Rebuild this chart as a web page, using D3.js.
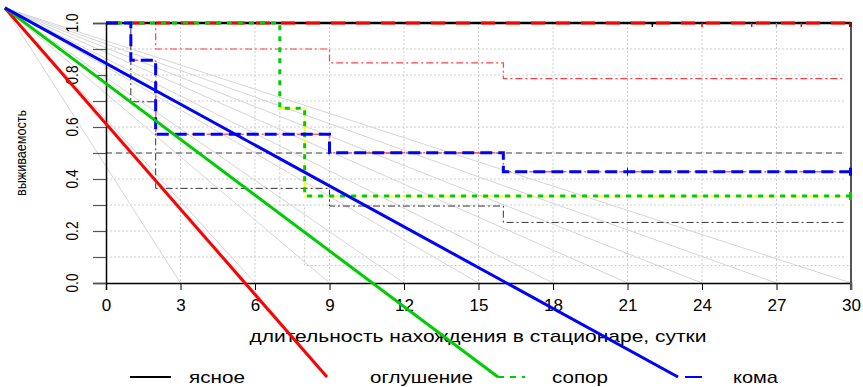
<!DOCTYPE html>
<html>
<head>
<meta charset="utf-8">
<script src="https://cdn.jsdelivr.net/npm/d3@7"></script>
<style>
    body { margin: 0; background: #fff; }
    svg { display: block; font-family: "Liberation Sans", Arial, sans-serif; }
</style>
</head>
<body>
<div id="chart"></div>
<script>
// ---- data ----
const xTicks = [0, 3, 6, 9, 12, 15, 18, 21, 24, 27, 30];
const yTicks = [0, 0.1, 0.2, 0.3, 0.4, 0.5, 0.6, 0.7, 0.8, 0.9, 1.0];
const yLabels = [0, 0.2, 0.4, 0.6, 0.8, 1.0];

// step curves: change points (day, survival) and end day
const komaDays = [0, 1, 2, 9, 16];
const komaSurv = [1, 0.857, 0.572, 0.501, 0.428];
const soporDays = [0, 7, 8];
const soporSurv = [1, 0.672, 0.335];
const blackCiDays = [0, 1, 2, 9, 16];
const blackCiSurv = [1, 0.697, 0.364, 0.296, 0.233];
const redCiDays = [0, 2, 9, 16];
const redCiSurv = [1, 0.9, 0.847, 0.786];
const soporLowDays = [7, 8];
const soporLowSurv = [0.3, 0.067];

const topCensorDays = [22, 24, 26, 27, 28];
const topCensorColors = ["#000", "#f00", "#f00", "#888", "#f00"];
const komaCensorDays = [21];

// fan of grey guide lines and the thick legend lines share one origin
const fanOrigin = [-4.07, 1.058];
const fanEnds = [3, 6, 9, 12, 15, 18, 21, 24, 27, 30];

const legendLabels = ["ясное", "оглушение", "сопор", "кома"];
const legendColors = ["#000", "#ff0000", "#00cc00", "#0000ff"];

// ---- layout ----
const W = 863, H = 387;
const x = d3.scaleLinear([0, 30], [106, 851]);
const y = d3.scaleLinear([0, 1], [283, 23]);
const legendY = 377;
const keyX = [130, 327, 498, 678];
const textX = [189, 370, 552, 733];
const textW = [56, 103, 56, 45];

const svg = d3.select("#chart").append("svg")
    .attr("width", W)
    .attr("height", H)
    .attr("viewBox", [0, 0, W, H]);

// helper: step path from change points
function stepPath(days, surv, endDay) {
    const pts = [];
    days.forEach((d, i) => {
        if (i > 0) pts.push([d, surv[i - 1]]);
        pts.push([d, surv[i]]);
    });
    pts.push([endDay, surv[surv.length - 1]]);
    return d3.line().x(d => x(d[0])).y(d => y(d[1]))(pts);
}

// grid
const grid = svg.append("g")
    .attr("stroke", "#d0d0d0")
    .attr("stroke-dasharray", "2,2")
    .attr("stroke-width", 1);
grid.selectAll("line.v")
    .data(xTicks.slice(1, -1))
    .join("line")
    .attr("x1", d => x(d)).attr("x2", d => x(d))
    .attr("y1", y(1)).attr("y2", y(0));
grid.selectAll("line.h")
    .data(yTicks.slice(1, -1))
    .join("line")
    .attr("x1", x(0)).attr("x2", x(29.8))
    .attr("y1", d => y(d)).attr("y2", d => y(d));

// grey fan
svg.append("g")
    .attr("stroke", "#d6d6d6")
    .attr("stroke-width", 1)
    .selectAll("line")
    .data(fanEnds)
    .join("line")
    .attr("x1", x(fanOrigin[0])).attr("y1", y(fanOrigin[1]))
    .attr("x2", d => x(d)).attr("y2", y(0));

// lower bound of сопор (grey dotted)
svg.append("path")
    .attr("d", stepPath([7, ...soporLowDays], [0.672, ...soporLowSurv], 30))
    .attr("fill", "none")
    .attr("stroke", "#c8c8c8")
    .attr("stroke-dasharray", "2,2");

// median line
svg.append("line")
    .attr("x1", x(0)).attr("x2", x(29.8))
    .attr("y1", y(0.5)).attr("y2", y(0.5))
    .attr("stroke", "#808080")
    .attr("stroke-width", 1.5)
    .attr("stroke-dasharray", "6,4");

// thin dash-dot curves
svg.append("path")
    .attr("d", stepPath(blackCiDays, blackCiSurv, 29.7))
    .attr("fill", "none")
    .attr("stroke", "#333")
    .attr("stroke-width", 1)
    .attr("stroke-dasharray", "7,3,2,3");
svg.append("path")
    .attr("d", stepPath(redCiDays, redCiSurv, 29.7))
    .attr("fill", "none")
    .attr("stroke", "#ff2020")
    .attr("stroke-opacity", 0.85)
    .attr("stroke-width", 1.2)
    .attr("stroke-dasharray", "7,3,2,3");
svg.append("path")
    .attr("d", stepPath(komaDays.slice(1), komaSurv.slice(1), 30))
    .attr("fill", "none")
    .attr("stroke", "#ff6060")
    .attr("stroke-width", 1.5)
    .attr("stroke-dasharray", "7,3,2,3");

// top line at 1.0: black solid with red dashes
svg.append("line")
    .attr("x1", x(0)).attr("x2", x(30))
    .attr("y1", y(1)).attr("y2", y(1))
    .attr("stroke", "#000").attr("stroke-width", 2.5);
svg.append("line")
    .attr("x1", x(0)).attr("x2", x(30))
    .attr("y1", y(1)).attr("y2", y(1))
    .attr("stroke", "#f00").attr("stroke-width", 3)
    .attr("stroke-dasharray", "14,11");

// сопор: yellow dash-dot under green dashes
svg.append("path")
    .attr("d", stepPath(soporDays.slice(1), soporSurv.slice(1), 30))
    .attr("fill", "none")
    .attr("stroke", "#ffff00")
    .attr("stroke-width", 1.5)
    .attr("stroke-dasharray", "6,3,2,3");
svg.append("path")
    .attr("d", stepPath(soporDays, soporSurv, 30))
    .attr("fill", "none")
    .attr("stroke", "#00cc00")
    .attr("stroke-width", 3)
    .attr("stroke-dasharray", "5,6");

// кома
svg.append("path")
    .attr("d", stepPath(komaDays, komaSurv, 30))
    .attr("fill", "none")
    .attr("stroke", "#0000ff")
    .attr("stroke-width", 3)
    .attr("stroke-dasharray", "12,6");

// censor marks
svg.append("g")
    .selectAll("line")
    .data(topCensorDays)
    .join("line")
    .attr("x1", d => x(d)).attr("x2", d => x(d))
    .attr("y1", y(1)).attr("y2", y(1) + 4)
    .attr("stroke", (d, i) => topCensorColors[i])
    .attr("stroke-width", 1.5);
svg.append("g")
    .selectAll("line")
    .data(komaCensorDays)
    .join("line")
    .attr("x1", d => x(d)).attr("x2", d => x(d))
    .attr("y1", y(komaSurv[komaSurv.length - 1]) - 4)
    .attr("y2", y(komaSurv[komaSurv.length - 1]) + 4)
    .attr("stroke", "#0000ff")
    .attr("stroke-width", 1);

// axes
const xAxis = svg.append("g")
    .attr("transform", `translate(0,${y(0)})`)
    .call(d3.axisBottom(x).tickValues(xTicks).tickSize(7).tickPadding(9));
xAxis.select(".domain").attr("stroke-width", 1.5);
xAxis.selectAll("text")
    .attr("font-size", 17)
    .attr("fill", "#000");

const yAxis = svg.append("g")
    .attr("transform", `translate(${x(0)},0)`)
    .call(d3.axisLeft(y).tickValues(yTicks).tickSize(13).tickFormat(""));
yAxis.select(".domain").attr("stroke-width", 1.5);
yAxis.selectAll(".tick line").attr("stroke", "#555").attr("stroke-width", 1.2);
svg.append("g")
    .selectAll("text")
    .data(yLabels)
    .join("text")
    .attr("transform", d => `translate(${x(0) - 28},${y(d)}) rotate(-90)`)
    .attr("text-anchor", "middle")
    .attr("font-size", 17)
    .attr("textLength", 19)
    .attr("lengthAdjust", "spacingAndGlyphs")
    .text(d => d.toFixed(1));

// right border
svg.append("line")
    .attr("x1", x(30)).attr("x2", x(30))
    .attr("y1", y(1)).attr("y2", y(0) + 7)
    .attr("stroke", "#555")
    .attr("stroke-width", 2);

// right-end markers
svg.append("rect").attr("x", x(30) - 2).attr("y", y(1) - 1).attr("width", 3).attr("height", 5).attr("fill", "#a00000");
svg.append("rect").attr("x", x(30) - 2).attr("y", y(komaSurv[4]) - 4).attr("width", 3).attr("height", 8).attr("fill", "#0000ff");
svg.append("rect").attr("x", x(30) - 2).attr("y", y(soporSurv[2]) - 4).attr("width", 3).attr("height", 8).attr("fill", "#00cc00");

// axis titles
svg.append("text")
    .attr("x", 478)
    .attr("y", 342)
    .attr("text-anchor", "middle")
    .attr("font-size", 17)
    .attr("textLength", 457)
    .attr("lengthAdjust", "spacingAndGlyphs")
    .text("длительность нахождения в стационаре, сутки");
svg.append("text")
    .attr("transform", `translate(26,${(y(0) + y(1)) / 2}) rotate(-90)`)
    .attr("text-anchor", "middle")
    .attr("font-size", 15)
    .attr("textLength", 86)
    .attr("lengthAdjust", "spacingAndGlyphs")
    .text("выживаемость");

// legend: the thick coloured keys are drawn from the fan origin
const legend = svg.append("g");
legendLabels.forEach((label, i) => {
    if (i === 0) {
        legend.append("line")
            .attr("x1", keyX[i]).attr("x2", keyX[i] + 41)
            .attr("y1", legendY).attr("y2", legendY)
            .attr("stroke", legendColors[i]).attr("stroke-width", 2);
    } else {
        legend.append("line")
            .attr("x1", x(fanOrigin[0])).attr("y1", y(fanOrigin[1]))
            .attr("x2", keyX[i]).attr("y2", legendY)
            .attr("stroke", legendColors[i]).attr("stroke-width", 3);
    }
    if (i === 2) {
        legend.append("line")
            .attr("x1", keyX[i]).attr("x2", keyX[i] + 27)
            .attr("y1", legendY).attr("y2", legendY)
            .attr("stroke", legendColors[i]).attr("stroke-width", 2)
            .attr("stroke-dasharray", "6,6");
    }
    if (i === 3) {
        legend.append("line")
            .attr("x1", keyX[i] + 7).attr("x2", keyX[i] + 24)
            .attr("y1", legendY).attr("y2", legendY)
            .attr("stroke", legendColors[i]).attr("stroke-width", 2);
    }
    legend.append("text")
        .attr("x", textX[i])
        .attr("y", legendY + 6)
        .attr("font-size", 17)
        .attr("textLength", textW[i])
        .attr("lengthAdjust", "spacingAndGlyphs")
        .text(label);
});
</script>
</body>
</html>
